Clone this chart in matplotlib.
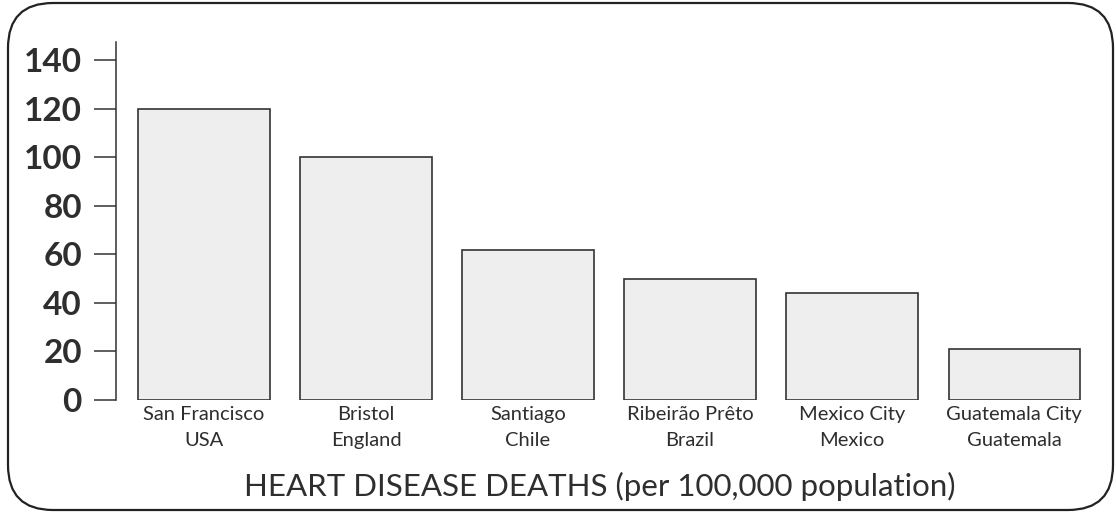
import matplotlib
matplotlib.use("Agg")
import matplotlib.pyplot as plt
from matplotlib.patches import FancyBboxPatch
from matplotlib.transforms import IdentityTransform

# data
cities = ["San Francisco", "Bristol", "Santiago", "Ribeirão Prêto", "Mexico City", "Guatemala City"]
countries = ["USA", "England", "Chile", "Brazil", "Mexico", "Guatemala"]
deaths = [120, 100, 62, 50, 44, 21]
y_ticks = [0, 20, 40, 60, 80, 100, 120, 140]

plt.rcParams['font.family'] = ['Lato', 'DejaVu Sans']
text_col = "#2e2e2e"

fig = plt.figure(figsize=(11.16, 5.13), dpi=100)
ax = fig.add_axes([0.1039, 0.2203, 0.8818, 0.6977])

x = list(range(len(deaths)))
ax.bar(x, deaths, width=0.81, color="#eeeeee", edgecolor="#333333", linewidth=1.2)

ax.set_xlim(-0.543, 5.53)
ax.set_ylim(0, 147.5)
ax.set_yticks(y_ticks)
ax.set_yticklabels([str(v) for v in y_ticks], fontsize=24, fontweight="bold", color=text_col)
ax.set_xticks(x)
ax.set_xticklabels([f"{c}\n{k}" for c, k in zip(cities, countries)],
                   fontsize=14.5, color=text_col, linespacing=1.65)

ax.tick_params(axis="y", length=16, width=1.1, color="#333333", pad=8.5)
ax.tick_params(axis="x", length=0, pad=4)

for side in ["top", "right", "bottom"]:
    ax.spines[side].set_visible(False)
ax.spines["left"].set_linewidth(1.1)
ax.spines["left"].set_color("#333333")

fig.text(0.5376, 1 - 486 / 513, "HEART DISEASE DEATHS (per 100,000 population)",
         ha="center", va="center", fontsize=22.5, color=text_col)

# rounded frame around the whole figure, in pixels
frame = FancyBboxPatch((8, 3), 1105, 507, boxstyle="round,pad=0,rounding_size=45",
                       transform=IdentityTransform(), fill=False,
                       edgecolor="#222222", linewidth=1.6)
fig.patches.append(frame)

fig.savefig("out.png", dpi=100)
